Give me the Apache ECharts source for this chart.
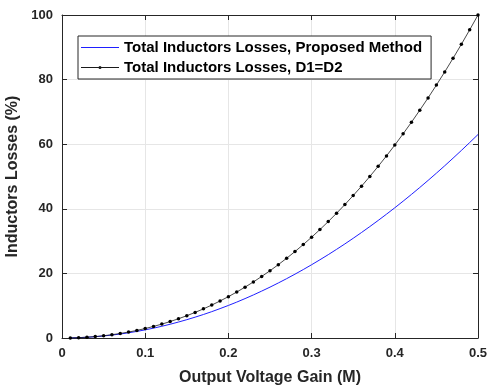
<!DOCTYPE html>
<html>
<head>
<meta charset="utf-8">
<script src="https://cdn.jsdelivr.net/npm/echarts@6/dist/echarts.min.js"></script>
<style>
html,body{margin:0;padding:0;background:#fff;}
#chart{width:489px;height:385px;}
</style>
</head>
<body>
<div id="chart"></div>
<script>
// Output voltage gain M (x values)
var gainM = [0.01,0.02,0.03,0.04,0.05,0.06,0.07,0.08,0.09,0.10,
             0.11,0.12,0.13,0.14,0.15,0.16,0.17,0.18,0.19,0.20,
             0.21,0.22,0.23,0.24,0.25,0.26,0.27,0.28,0.29,0.30,
             0.31,0.32,0.33,0.34,0.35,0.36,0.37,0.38,0.39,0.40,
             0.41,0.42,0.43,0.44,0.45,0.46,0.47,0.48,0.49,0.50];
// Total Inductors Losses, Proposed Method (%)
var proposedLoss = [0.03,0.10,0.23,0.40,0.63,0.91,1.23,1.61,2.04,2.52,
                    3.05,3.63,4.26,4.94,5.67,6.45,7.28,8.16,9.10,10.08,
                    11.11,12.20,13.33,14.52,15.75,17.04,18.37,19.76,21.19,22.68,
                    24.22,25.80,27.44,29.13,30.87,32.66,34.50,36.39,38.33,40.32,
                    42.36,44.45,46.59,48.79,51.03,53.32,55.67,58.06,60.51,63.00];
// Total Inductors Losses, D1=D2 (%)
var equalDutyLoss = [0.03,0.11,0.25,0.44,0.70,1.02,1.40,1.84,2.35,2.93,
                     3.58,4.30,5.09,5.96,6.90,7.92,9.02,10.20,11.46,12.80,
                     14.23,15.75,17.35,19.05,20.83,22.71,24.69,26.76,28.93,31.20,
                     33.57,36.04,38.62,41.31,44.10,47.00,50.01,53.14,56.38,59.73,
                     63.21,66.80,70.51,74.34,78.30,82.38,86.59,90.93,95.40,100.00];
var seriesNames = ['Total Inductors Losses, Proposed Method', 'Total Inductors Losses, D1=D2'];
var xTitle = 'Output Voltage Gain (M)';
var yTitle = 'Inductors Losses (%)';

function pairs(xs, ys){ return xs.map(function(x,i){ return [x, ys[i]]; }); }

var FONT = '"Liberation Sans", Arial, Helvetica, sans-serif';
var AX = '#262626';
var BLUE = '#1f1fff';
// legend icon for the marker series: thin line sample with a dot, in a 38x6 box
var ICON_LINE_DOT = 'path://M0,0L0,0M38,6L38,6M0,2.5H38V3.5H0Z' +
                    'M17.5,3A1.5,1.5,0,1,1,20.5,3A1.5,1.5,0,1,1,17.5,3Z';
var chart = echarts.init(document.getElementById('chart'), null, {renderer:'canvas'});
chart.setOption({
  animation:false,
  backgroundColor:'#fff',
  grid:{left:62, right:11, top:15, bottom:47, containLabel:false, outerBoundsMode:'none'},
  legend:{
    orient:'vertical', left:78, top:36,
    backgroundColor:'#fff', borderColor:AX, borderWidth:1, borderRadius:0,
    padding:[4,9,4,3], itemGap:5, itemWidth:38, itemHeight:6,
    itemStyle:{borderWidth:0},
    textStyle:{fontFamily:FONT, fontWeight:'bold', fontSize:15, color:'#000', lineHeight:15},
    data:[
      {name:seriesNames[0], icon:'none'},
      {name:seriesNames[1], icon:ICON_LINE_DOT, itemStyle:{color:'#1a1a1a'}}
    ]
  },
  // blue line sample for the first legend entry (drawn over the legend box)
  graphic:[{
    type:'line', z:100, silent:true,
    shape:{x1:81, y1:47.5, x2:119, y2:47.5},
    style:{stroke:BLUE, lineWidth:1}
  }],
  xAxis:[{
    type:'value', min:0, max:0.5, interval:0.1, position:'bottom',
    name:xTitle, nameLocation:'middle', nameGap:32,
    nameTextStyle:{fontFamily:FONT, fontWeight:'bold', fontSize:16, color:AX},
    axisLine:{show:true, lineStyle:{color:AX, width:1}},
    axisTick:{show:true, inside:true, length:5, lineStyle:{color:AX}},
    axisLabel:{margin:9, fontFamily:FONT, fontWeight:'bold', fontSize:13, color:AX,
      formatter:function(v){ return String(+v.toFixed(1)); }},
    splitLine:{show:true, lineStyle:{color:'#e6e6e6', width:1}}
  },{
    type:'value', min:0, max:0.5, interval:0.1, position:'top',
    axisLine:{show:true, onZero:false, lineStyle:{color:AX, width:1}},
    axisTick:{show:true, inside:true, length:5, lineStyle:{color:AX}},
    axisLabel:{show:false}, splitLine:{show:false}
  }],
  yAxis:[{
    type:'value', min:0, max:100, interval:20, position:'left',
    name:yTitle, nameLocation:'middle', nameGap:30, nameRotate:90,
    nameTextStyle:{fontFamily:FONT, fontWeight:'bold', fontSize:16, color:AX},
    axisLine:{show:true, lineStyle:{color:AX, width:1}},
    axisTick:{show:true, inside:true, length:5, lineStyle:{color:AX}},
    axisLabel:{margin:9, fontFamily:FONT, fontWeight:'bold', fontSize:13, color:AX},
    splitLine:{show:true, lineStyle:{color:'#e6e6e6', width:1}}
  },{
    type:'value', min:0, max:100, interval:20, position:'right',
    axisLine:{show:true, onZero:false, lineStyle:{color:AX, width:1}},
    axisTick:{show:true, inside:true, length:5, lineStyle:{color:AX}},
    axisLabel:{show:false}, splitLine:{show:false}
  }],
  series:[{
    name:seriesNames[0], type:'line', xAxisIndex:0, yAxisIndex:0,
    data:pairs(gainM, proposedLoss), symbol:'none', smooth:false,
    lineStyle:{color:BLUE, width:1}, itemStyle:{color:BLUE}, z:3
  },{
    name:seriesNames[1], type:'line', xAxisIndex:0, yAxisIndex:0,
    data:pairs(gainM, equalDutyLoss), symbol:'circle', symbolSize:3.5, showSymbol:true,
    lineStyle:{color:'#1a1a1a', width:0.8}, itemStyle:{color:'#000'}, z:4
  }]
});
</script>
</body>
</html>
